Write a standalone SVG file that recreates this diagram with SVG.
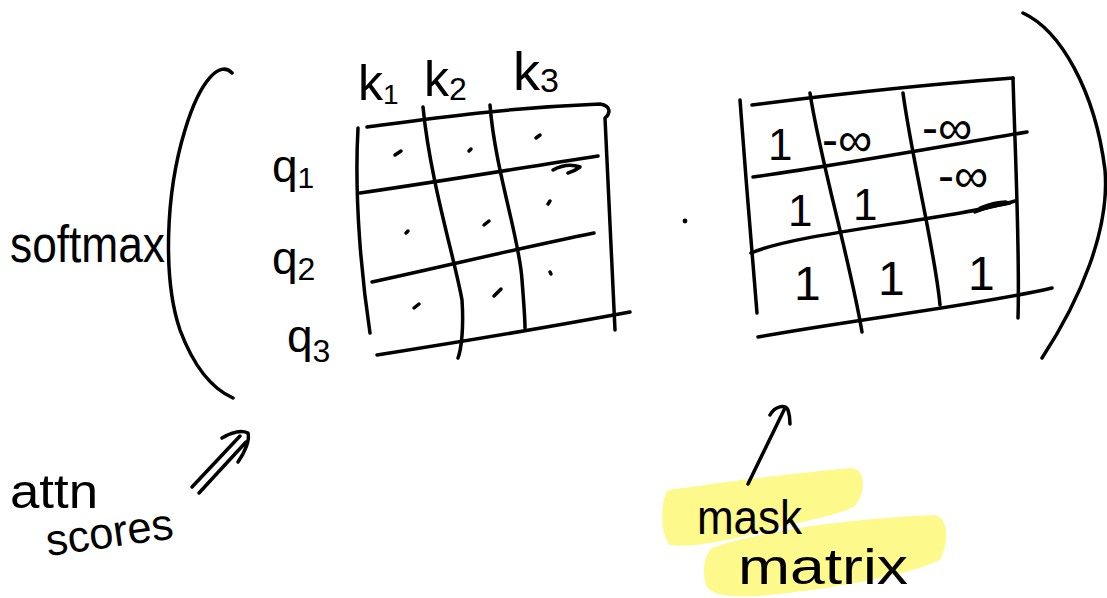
<svg xmlns="http://www.w3.org/2000/svg" width="1107" height="598" viewBox="0 0 1107 598">
<style>
.s{fill:none;stroke:#000;stroke-width:3.5;stroke-linecap:round;stroke-linejoin:round}
.t{font-family:"Liberation Sans",Arial,sans-serif;fill:#000}
.hl{fill:#fdf98a}
</style>
<rect width="1107" height="598" fill="#fff"/>
<g id="brackets">
<path class="s" d="M232,73 C220,60 200,80 185,130 C165,195 163,280 180,330 C195,370 215,390 233,398"/>
<path class="s" d="M1023,13 C1060,30 1095,90 1105,170 C1110,230 1080,300 1042,358"/>
</g>
<g id="softmax-label"><text class="t" x="10" y="262" font-size="52" textLength="155" lengthAdjust="spacingAndGlyphs">softmax</text></g>
<g id="key-labels">
<text class="t" x="358" y="100" font-size="50">k<tspan font-size="28" dy="4">1</tspan></text>
<text class="t" x="424" y="96" font-size="50">k<tspan font-size="32" dy="4">2</tspan></text>
<text class="t" x="513" y="90" font-size="54">k<tspan font-size="34" dy="2">3</tspan></text>
</g>
<g id="query-labels">
<text class="t" x="272" y="182" font-size="46">q<tspan font-size="30" dy="6">1</tspan></text>
<text class="t" x="272" y="274" font-size="46">q<tspan font-size="32" dy="6">2</tspan></text>
<text class="t" x="287" y="352" font-size="46">q<tspan font-size="32" dy="10">3</tspan></text>
</g>
<g id="attn-matrix">
<path class="s" d="M367,127 C420,120 500,108 600,104 C612,106 610,114 605,118 C608,190 612,260 615,330"/>
<path class="s" d="M358,128 C354,200 362,280 370,333"/>
<path class="s" d="M360,193 C450,180 520,168 598,156"/>
<path class="s" d="M372,282 C450,265 520,248 594,233"/>
<path class="s" d="M377,355 C460,342 560,325 630,312"/>
<path class="s" d="M423,107 C430,180 455,260 462,300 C464,330 461,350 458,358"/>
<path class="s" d="M490,105 C495,170 520,240 522,280 C524,305 525,320 525,328"/>
<path class="s" d="M553,170 C562,165 572,164 580,167 C576,170 572,172 568,173"/>
<g class="s" stroke-width="3">
<path d="M395,155 L401,151"/><path d="M469,151 L471,149"/><path d="M536,138 L540,135"/>
<path d="M406,233 L408,231"/><path d="M484,225 L489,221"/><path d="M548,204 L550,201"/>
<path d="M414,308 L419,304"/><path d="M494,296 L501,289"/><path d="M550,272 L551,274"/>
</g>
</g>
<g id="dot-operator"><circle cx="685" cy="221" r="2.4" fill="#000"/></g>
<g id="mask-matrix">
<path class="s" d="M752,105 C830,95 920,85 1013,78"/>
<path class="s" d="M740,100 C745,170 752,250 757,313"/>
<path class="s" d="M810,93 C820,160 850,260 862,332"/>
<path class="s" d="M903,93 C912,160 935,250 940,305"/>
<path class="s" d="M1013,78 C1015,150 1020,250 1018,318"/>
<path class="s" d="M753,177 C840,165 950,145 1027,132"/>
<path class="s" d="M751,253 C800,232 950,220 1015,201"/>
<path class="s" d="M758,337 C850,320 980,305 1052,288"/>
<path class="s" d="M975,212 C990,206 1002,204 1010,203 M980,208 C990,204 1000,202 1006,202"/>
<text class="t" x="768" y="160" font-size="44">1</text>
<text class="t" x="822" y="156" font-size="48">-∞</text>
<text class="t" x="922" y="144" font-size="48">-∞</text>
<text class="t" x="788" y="226" font-size="44">1</text>
<text class="t" x="853" y="220" font-size="44">1</text>
<text class="t" x="938" y="192" font-size="48">-∞</text>
<text class="t" x="794" y="300" font-size="48">1</text>
<text class="t" x="878" y="295" font-size="48">1</text>
<text class="t" x="968" y="290" font-size="48">1</text>
</g>
<g id="attn-scores-label">
<text class="t" x="10" y="508" font-size="48" textLength="88" lengthAdjust="spacingAndGlyphs">attn</text>
<text class="t" x="48" y="556" font-size="44" transform="rotate(-8 48 556)" textLength="128" lengthAdjust="spacingAndGlyphs">scores</text>
</g>
<g id="mask-matrix-label">
<path class="hl" d="M668,490 C700,486 780,474 852,468 C866,470 866,492 855,506 C840,515 800,522 760,532 C720,542 690,548 670,545 C660,535 660,500 668,490 Z"/>
<path class="hl" d="M712,548 C760,530 860,518 935,515 C948,518 950,540 940,560 C900,578 830,588 780,594 C740,598 712,598 706,585 C702,570 704,556 712,548 Z"/>
<text class="t" x="697" y="534" font-size="48" textLength="105" lengthAdjust="spacingAndGlyphs">mask</text>
<text class="t" x="738" y="584" font-size="50" textLength="170" lengthAdjust="spacingAndGlyphs">matrix</text>
</g>
<g id="connectors">
<path class="s" d="M192,487 L240,436 M199,493 L246,442 M222,438 C232,432 242,430 248,433 C250,440 245,452 238,462"/>
<path class="s" d="M748,484 L784,410 M770,415 C775,406 785,404 788,410 C790,416 790,420 790,424"/>
</g>
</svg>
